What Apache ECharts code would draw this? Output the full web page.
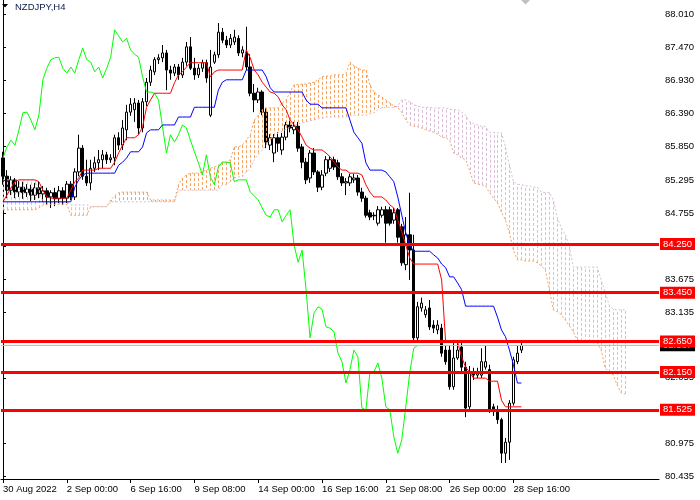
<!DOCTYPE html>
<html><head><meta charset="utf-8">
<script src="https://cdn.jsdelivr.net/npm/echarts@6/dist/echarts.min.js"></script>
<style>html,body{margin:0;padding:0;background:#fff}#c{width:700px;height:500px}</style>
</head><body><div id="c"></div>
<script>
const symbolTitle = 'NZDJPY,H4';
const timeLabels = ['30 Aug 2022','2 Sep 00:00','6 Sep 16:00','9 Sep 08:00','14 Sep 00:00','16 Sep 16:00','21 Sep 08:00','26 Sep 00:00','28 Sep 16:00'];
const timeLabelBars = [0,16,32,48,64,80,96,112,128];
const barCount = 165;
const yTickLabels = [88.010,87.470,86.930,86.390,85.850,85.295,84.755,84.215,83.675,83.135,82.595,82.055,81.515,80.975,80.435];
const levels = [84.250,83.450,82.650,82.150,81.525];
const levelLabels = ['84.250','83.450','82.650','82.150','81.525'];
const bidPrice = 82.587;
const bidLabel = '82.587';

const opens = [85.66,85.36,85.13,85.30,85.10,85.18,85.09,85.15,85.05,85.17,
85.07,85.12,85.02,85.09,84.99,85.12,85.00,85.23,85.02,85.43,
85.82,85.36,85.25,85.49,85.58,85.63,85.71,85.63,85.66,85.99,
85.87,86.12,86.41,86.45,86.56,86.15,86.58,86.90,87.07,87.27,
87.30,87.38,87.10,87.05,87.15,87.02,87.23,87.48,87.13,87.02,
87.13,87.22,86.36,87.23,87.35,87.72,87.59,87.51,87.56,87.62,
87.38,87.38,87.15,86.72,86.61,86.74,86.41,85.87,85.74,85.99,
85.79,86.00,86.20,86.12,86.18,85.84,85.59,85.33,85.74,85.43,
85.18,85.41,85.49,85.63,85.58,85.35,85.25,85.25,85.30,85.33,
85.10,85.00,84.76,84.72,84.59,84.72,84.81,84.81,84.64,84.81,
84.53,83.91,84.40,84.15,82.71,83.20,83.09,83.20,82.92,82.84,
82.87,82.51,82.51,81.91,82.38,82.56,82.23,81.58,82.15,82.10,
82.10,82.23,82.19,81.58,81.53,81.37,80.82,81.00,81.64,82.32,
82.51];
const closes = [85.36,85.13,85.30,85.10,85.18,85.09,85.15,85.05,85.17,85.07,
85.12,85.02,85.09,84.99,85.12,85.00,85.23,85.02,85.43,85.82,
85.36,85.25,85.49,85.58,85.63,85.71,85.63,85.66,85.99,85.87,
86.15,86.41,86.54,86.56,86.15,86.58,86.90,87.10,87.27,87.30,
87.38,87.10,87.05,87.15,87.02,87.23,87.48,87.13,87.02,87.13,
87.22,86.97,87.15,87.35,87.72,87.59,87.51,87.62,87.64,87.38,
87.43,87.15,86.72,86.61,86.74,86.41,85.92,85.99,85.99,85.90,
86.00,86.20,86.15,86.18,85.82,85.59,85.30,85.74,85.43,85.18,
85.38,85.63,85.63,85.51,85.35,85.25,85.27,85.35,85.33,85.10,
85.00,84.72,84.69,84.71,84.81,84.81,84.59,84.59,84.76,84.36,
83.94,84.40,84.15,82.71,83.22,83.28,83.17,82.89,82.87,82.92,
82.46,82.32,81.91,82.38,82.51,82.23,81.56,82.15,82.10,82.15,
82.32,82.32,81.53,81.50,81.37,80.82,81.00,81.64,82.35,82.46,
82.587];
const lows = [85.22,85.00,85.05,85.00,85.02,84.99,85.02,84.95,84.97,85.00,
84.94,84.89,84.84,84.87,84.92,84.89,84.92,84.97,84.97,85.36,
85.30,85.20,85.13,85.43,85.46,85.49,85.56,85.58,85.54,85.79,
85.79,85.95,86.35,86.25,86.04,86.08,86.51,86.84,87.02,87.20,
87.23,86.77,86.94,87.00,86.94,86.97,87.17,87.10,86.94,86.97,
87.07,86.89,86.33,87.20,87.30,87.54,87.46,87.46,87.51,87.33,
87.31,87.10,86.67,86.41,86.56,86.36,85.82,85.79,85.59,85.76,
85.71,85.95,86.08,86.05,85.76,85.49,85.23,85.25,85.38,85.10,
85.13,85.36,85.43,85.46,85.30,85.20,85.05,85.20,85.25,85.04,
84.94,84.68,84.64,84.64,84.55,84.68,84.27,84.55,84.58,84.27,
83.89,83.82,83.66,82.63,82.64,83.14,83.04,82.84,82.79,82.77,
82.40,82.27,81.86,81.86,82.35,82.15,81.41,81.53,82.02,82.05,
82.05,82.19,81.48,81.43,81.30,80.66,80.66,80.71,81.60,82.28,
82.46];
const highs = [85.76,85.46,85.36,85.33,85.28,85.27,85.23,85.22,85.25,85.27,
85.20,85.17,85.13,85.17,85.20,85.18,85.28,85.28,85.49,86.04,
85.87,85.63,85.63,85.68,85.79,85.79,85.76,85.72,86.04,86.08,
86.28,86.53,86.64,86.64,86.61,86.64,86.97,87.17,87.31,87.36,
87.51,87.43,87.17,87.20,87.20,87.30,87.56,87.64,87.30,87.20,
87.27,87.27,87.43,87.40,87.87,87.79,87.66,87.69,87.76,87.67,
87.49,87.81,87.36,86.87,86.81,86.77,86.48,86.05,86.05,86.08,
86.07,86.25,86.27,86.25,86.25,85.89,85.66,85.79,85.82,85.46,
85.46,85.69,85.69,85.68,85.63,85.41,85.33,85.40,85.40,85.38,
85.17,85.04,84.81,84.77,84.87,84.86,84.87,84.86,84.84,84.84,
84.58,84.69,85.09,84.40,83.30,83.37,83.23,83.33,83.00,83.00,
82.94,82.58,82.58,82.63,82.63,82.63,82.32,82.25,82.22,82.22,
82.54,82.58,82.27,81.63,81.60,81.40,81.07,81.69,82.40,82.59,
82.63];

const tenkan = [84.94,85.05,85.17,85.27,85.30,85.30,85.30,85.30,85.30,85.27,
85.13,85.02,85.00,85.00,85.00,85.00,85.00,85.13,85.27,85.33,
85.46,85.46,85.46,85.46,85.49,85.49,85.49,85.49,85.59,85.74,
85.87,85.99,85.99,85.99,86.04,86.17,86.49,86.61,86.72,86.72,
86.72,86.72,86.72,86.89,87.02,87.07,87.15,87.22,87.22,87.22,
87.22,87.22,86.99,87.07,87.10,87.10,87.10,87.10,87.10,87.10,
87.10,87.43,87.30,87.10,87.02,86.90,86.82,86.74,86.72,86.66,
86.53,86.45,86.28,86.20,86.12,86.00,85.87,85.82,85.79,85.79,
85.79,85.74,85.68,85.59,85.51,85.46,85.46,85.41,85.41,85.41,
85.38,85.22,85.10,85.02,85.02,85.02,84.97,84.89,84.84,84.64,
84.45,84.23,84.02,83.92,83.92,83.92,83.92,83.92,83.92,83.92,
83.66,82.64,82.64,82.64,82.64,82.40,82.23,82.15,82.05,82.05,
82.05,82.05,82.00,82.00,82.00,81.69,81.58,81.58,81.58,81.58,
81.58];
const kijun = [84.94,84.94,84.94,84.94,84.94,84.94,84.94,84.94,84.94,84.94,
84.94,84.94,84.94,84.94,84.94,84.94,84.94,84.94,85.18,85.30,
85.38,85.41,85.41,85.41,85.41,85.41,85.41,85.41,85.41,85.54,
85.59,85.66,85.76,85.76,85.76,85.84,86.07,86.12,86.12,86.12,
86.20,86.20,86.20,86.20,86.33,86.33,86.33,86.33,86.49,86.49,
86.49,86.49,86.49,86.49,86.77,86.90,86.94,86.94,86.94,86.94,
86.94,87.10,87.10,87.10,87.10,87.10,86.99,86.81,86.74,86.74,
86.74,86.74,86.74,86.74,86.74,86.74,86.61,86.54,86.54,86.54,
86.48,86.48,86.48,86.48,86.48,86.48,86.48,86.28,86.08,85.99,
85.90,85.58,85.46,85.46,85.46,85.46,85.43,85.35,85.27,85.02,
84.72,84.43,84.23,84.13,84.13,84.13,84.13,84.13,84.07,84.02,
83.92,83.86,83.71,83.71,83.61,83.50,83.23,83.23,83.23,83.23,
83.23,83.23,83.23,83.23,83.05,82.84,82.73,82.51,82.27,81.97,
81.97];
const chikou = [85.66,85.84,85.95,85.87,86.12,86.40,86.41,86.28,86.12,86.36,
86.94,87.13,87.27,87.30,87.31,87.13,87.05,87.15,87.05,87.27,
87.46,87.27,87.23,87.07,87.15,86.97,87.13,87.31,87.76,87.66,
87.56,87.62,87.43,87.36,87.31,86.99,86.74,86.74,86.72,86.61,
86.17,85.74,86.04,85.92,86.04,86.20,86.15,85.95,85.76,85.58,
85.38,85.71,85.35,85.22,85.51,85.59,85.59,85.58,85.27,85.30,
85.30,85.30,85.10,85.04,84.97,84.84,84.72,84.69,84.81,84.81,
84.61,84.72,84.81,84.23,83.95,84.15,83.50,82.71,83.12,83.22,
83.18,82.89,82.87,82.81,82.46,82.32,81.97,82.19,82.51,82.40,
81.56,81.53,82.14,82.15,82.30,82.05,81.58,81.53,81.09,80.82,
81.04,81.58,82.14,82.54,82.59];
const senkouA = [84.81,84.81,84.81,84.81,84.81,84.81,84.81,84.81,84.81,84.84,
84.89,84.90,84.90,84.90,84.90,84.90,84.90,84.72,84.72,84.72,
84.72,84.72,84.86,84.86,84.86,84.86,84.86,84.97,85.04,85.09,
85.10,85.10,85.10,85.10,85.10,85.10,85.10,84.97,84.97,84.97,
84.97,84.97,84.97,84.97,85.22,85.33,85.38,85.41,85.41,85.41,
85.43,85.46,85.49,85.51,85.54,85.59,85.59,85.63,85.84,85.84,
85.87,85.95,86.04,86.28,86.36,86.45,86.48,86.48,86.48,86.48,
86.56,86.61,86.74,86.86,86.86,86.87,86.87,86.89,86.90,86.94,
86.99,87.00,87.00,87.02,87.02,87.02,87.04,87.23,87.17,87.13,
87.10,87.10,86.86,86.74,86.69,86.66,86.61,86.56,86.51,86.49,
86.40,86.28,86.20,86.18,86.17,86.15,86.12,86.10,86.08,86.05,
86.00,85.99,85.95,85.74,85.71,85.66,85.63,85.46,85.25,85.23,
85.22,85.20,85.09,85.00,84.92,84.77,84.64,84.43,84.15,83.99,
83.99,83.97,83.97,83.97,83.94,83.89,83.82,83.50,83.17,83.14,
83.09,83.00,82.91,82.81,82.68,82.66,82.64,82.64,82.63,82.63,
82.51,82.22,82.15,82.10,81.94,81.81,81.79];
const senkouB = [85.30,85.30,85.30,85.30,85.30,85.30,85.30,85.30,85.30,85.13,
84.94,84.94,84.94,84.94,84.94,84.94,84.94,84.89,84.89,84.89,
84.89,84.89,84.86,84.86,84.86,84.86,84.86,84.94,84.94,84.94,
84.94,84.94,84.94,84.94,84.94,84.94,84.94,84.94,84.94,84.94,
84.94,84.94,84.94,84.94,85.13,85.13,85.13,85.13,85.13,85.13,
85.13,85.13,85.13,85.13,85.13,85.22,85.22,85.27,85.33,85.35,
85.35,85.43,85.49,85.63,85.71,85.79,85.87,85.95,86.02,86.07,
86.10,86.13,86.17,86.18,86.22,86.23,86.25,86.27,86.28,86.30,
86.31,86.33,86.33,86.33,86.33,86.33,86.33,86.35,86.36,86.36,
86.36,86.36,86.38,86.40,86.45,86.48,86.49,86.49,86.49,86.51,
86.61,86.61,86.58,86.53,86.51,86.49,86.49,86.49,86.48,86.48,
86.48,86.48,86.46,86.45,86.45,86.41,86.36,86.25,86.22,86.20,
86.18,86.17,86.08,86.08,86.07,86.07,85.84,85.54,85.27,85.23,
85.22,85.20,85.20,85.18,85.18,85.10,85.09,85.09,84.97,84.69,
84.51,84.40,84.23,83.87,83.87,83.87,83.87,83.87,83.87,83.87,
83.66,83.46,83.25,83.18,83.17,83.17,83.17];

const F = '"Liberation Sans", Arial, sans-serif';
const FS = 9.5;
const categories = Array.from({length: barCount}, (_, i) => String(i));
const candles = opens.map((o, i) => [o, closes[i], lows[i], highs[i]]);
const pairs = arr => arr.map((v, i) => [i, v]);
const isLabelBar = i => timeLabelBars.indexOf(i) >= 0;
const boxLabel = (bg) => ({show: true, position: 'end', distance: 1,
  backgroundColor: bg, color: '#ffffff', fontSize: FS, fontFamily: F, padding: [1, 3, 0, 3], lineHeight: 11});

const chart = echarts.init(document.getElementById('c'), null, {renderer: 'canvas'});
chart.setOption({
  animation: false,
  backgroundColor: '#ffffff',
  grid: {left: -2, right: 41, top: 0, bottom: 21, containLabel: false},
  xAxis: [{
    type: 'category', data: categories, boundaryGap: true,
    axisLine: {show: true, onZero: false, lineStyle: {color: '#000', width: 1}},
    axisTick: {show: true, alignWithLabel: true, interval: (i) => isLabelBar(i), length: 4, lineStyle: {color: '#000'}},
    axisLabel: {interval: (i) => isLabelBar(i), formatter: (v, i) => timeLabels[timeLabelBars.indexOf(i)] || '',
      align: 'left', margin: 5, color: '#000', fontSize: FS, fontFamily: F},
    splitLine: {show: false}
  }, {
    type: 'value', min: -0.5, max: barCount - 0.5, show: false
  }],
  yAxis: {
    type: 'value', position: 'right', min: 80.397, max: 88.248,
    axisLine: {show: true, lineStyle: {color: '#000', width: 1}},
    axisTick: {show: true, customValues: yTickLabels, length: 3, lineStyle: {color: '#000'}},
    axisLabel: {customValues: yTickLabels, formatter: v => Number(v).toFixed(3), margin: 6, color: '#000', fontSize: FS, fontFamily: F},
    splitLine: {show: false}
  },
  graphic: [
    {type: 'polygon', shape: {points: [[2, 4], [8, 4], [5, 7.5]]}, style: {fill: '#000'}},
    {type: 'text', left: 15, top: 2, style: {text: symbolTitle, fill: '#0c1c48', font: FS + 'px ' + F}},
    {type: 'polygon', shape: {points: [[521, 0], [530, 0], [525.5, 4.5]]}, style: {fill: '#c0c0c0'}}
  ],
  series: [
    {
      type: 'candlestick', xAxisIndex: 0, yAxisIndex: 0, z: 1, barWidth: 3,
      data: candles, silent: true,
      itemStyle: {color: '#ffffff', color0: '#000000', borderColor: '#000000', borderColor0: '#000000', borderWidth: 1}
    },
    {
      type: 'custom', xAxisIndex: 1, yAxisIndex: 0, z: 2, silent: true,
      data: senkouA.map((a, i) => [i, a, senkouB[i]]),
      encode: {x: 0, y: [1, 2]},
      renderItem: (params, api) => {
        const i = api.value(0), a = api.value(1), b = api.value(2);
        const p1 = api.coord([i, a]), p2 = api.coord([i, b]);
        const x = Math.round(p1[0]) + 0.5;
        return {type: 'line', shape: {x1: x, y1: p1[1], x2: x, y2: p2[1]},
          style: {stroke: a >= b ? '#F4A460' : '#D8BFD8', lineWidth: 1, lineDash: [3, 2]}};
      }
    },
    {type: 'line', xAxisIndex: 1, data: pairs(senkouA), z: 2, showSymbol: false, symbol: 'none', silent: true,
      lineStyle: {color: '#F4A460', width: 1, type: [2, 2]}},
    {type: 'line', xAxisIndex: 1, data: pairs(senkouB), z: 2, showSymbol: false, symbol: 'none', silent: true,
      lineStyle: {color: '#D8BFD8', width: 1, type: [2, 2]}},
    {type: 'line', xAxisIndex: 1, data: pairs(chikou), z: 3, showSymbol: false, symbol: 'none', silent: true,
      lineStyle: {color: '#00ff00', width: 1}},
    {type: 'line', xAxisIndex: 1, data: pairs(kijun), z: 3, showSymbol: false, symbol: 'none', silent: true,
      lineStyle: {color: '#0000ff', width: 1}},
    {type: 'line', xAxisIndex: 1, data: pairs(tenkan), z: 3, showSymbol: false, symbol: 'none', silent: true,
      lineStyle: {color: '#ff0000', width: 1}},
    {type: 'line', xAxisIndex: 1, data: [[0, bidPrice]], z: 3, clip: false, showSymbol: false, symbol: 'none', silent: true,
      lineStyle: {opacity: 0},
      markLine: {silent: true, symbol: ['none', 'none'], animation: false,
        lineStyle: {color: '#c0c0c0', width: 1, type: 'solid'},
        emphasis: {disabled: true},
        label: Object.assign(boxLabel('#000000'), {formatter: bidLabel}),
        data: [{yAxis: bidPrice}]}
    },
    {type: 'line', xAxisIndex: 1, data: [[0, levels[0]]], z: 4, clip: false, showSymbol: false, symbol: 'none', silent: true,
      lineStyle: {opacity: 0},
      markLine: {silent: true, symbol: ['none', 'none'], animation: false,
        lineStyle: {color: '#ff0000', width: 3, type: 'solid'},
        emphasis: {disabled: true},
        label: boxLabel('#ff0000'),
        data: levels.map((v, k) => ({yAxis: v, label: {formatter: levelLabels[k]}}))}
    }
  ]
});
</script>
</body></html>
